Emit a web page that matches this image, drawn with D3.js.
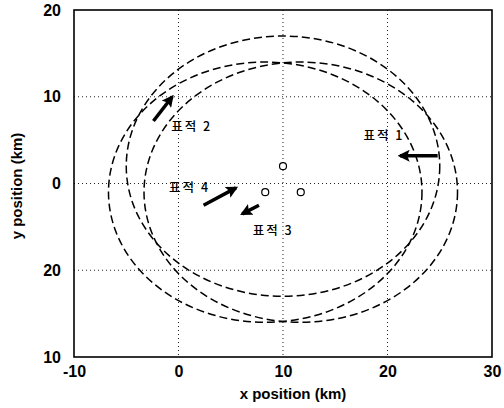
<!DOCTYPE html>
<html>
<head>
<meta charset="utf-8">
<script src="https://d3js.org/d3.v7.min.js"></script>
<style>
  body { margin: 0; background: #fff; }
  svg { display: block; }
</style>
</head>
<body>
<div id="chart"></div>
<script>
//data
var xTicks = [-10, 0, 10, 20, 30];
var yTicks = [-20, -10, 0, 10, 20];
var yTickLabels = ["10", "20", "0", "10", "20"]; // as printed on the scan

// sensors (km) and range circles
var sensorX = [10, 8.3, 11.7];
var sensorY = [2, -1, -1];
var rangeRadius = [15, 15, 15];

// target arrows: tail -> head (km)
var targetNames = ["표적 1", "표적 2", "표적 3", "표적 4"];
var arrowFromX = [24.8, -2.4, 7.7, 2.4];
var arrowFromY = [3.2, 7.2, -2.5, -2.5];
var arrowToX = [21.2, -0.6, 6.1, 5.5];
var arrowToY = [3.2, 10.0, -3.5, -0.5];
var labelX = [17.7, -0.7, 7.1, -0.9];
var labelY = [5.0, 6.0, -5.9, -1.0];

//setup
var width = 504,
    height = 408;
var plotLeft = 74, plotRight = 492, plotTop = 10, plotBottom = 357;

var xScale = d3.scaleLinear().domain([-10, 30]).range([plotLeft, plotRight]);
var yScale = d3.scaleLinear().domain([-20, 20]).range([plotBottom, plotTop]);

var svg = d3.select("#chart").append("svg")
    .attr("width", width)
    .attr("height", height);

var defs = svg.append("defs");
defs.append("marker")
    .attr("id", "head")
    .attr("viewBox", "0 0 10 10")
    .attr("refX", 8)
    .attr("refY", 5)
    .attr("markerUnits", "userSpaceOnUse")
    .attr("markerWidth", 12)
    .attr("markerHeight", 12)
    .attr("orient", "auto")
  .append("path")
    .attr("d", "M0,0 L10,5 L0,10 L2,5 Z")
    .attr("fill", "#000");

//grid
svg.append("g")
    .selectAll("line")
    .data(xTicks.slice(1, -1))
    .enter().append("line")
    .attr("x1", function (d) { return xScale(d); })
    .attr("x2", function (d) { return xScale(d); })
    .attr("y1", plotTop)
    .attr("y2", plotBottom)
    .attr("stroke", "#222")
    .attr("stroke-width", 1)
    .attr("stroke-dasharray", "1,3");

svg.append("g")
    .selectAll("line")
    .data(yTicks.slice(1, -1))
    .enter().append("line")
    .attr("y1", function (d) { return yScale(d); })
    .attr("y2", function (d) { return yScale(d); })
    .attr("x1", plotLeft)
    .attr("x2", plotRight)
    .attr("stroke", "#222")
    .attr("stroke-width", 1)
    .attr("stroke-dasharray", "1,3");

//axes
var xAxis = svg.append("g")
    .attr("transform", "translate(0," + plotBottom + ")")
    .call(d3.axisBottom(xScale).tickValues(xTicks).tickSize(0).tickPadding(9)
        .tickFormat(function (d) { return String(d); }));
xAxis.select(".domain").remove();
xAxis.selectAll("text")
    .style("font-family", "Liberation Sans, Arial, sans-serif")
    .style("font-size", "16px")
    .style("font-weight", "bold")
    .attr("fill", "#000");

var yAxis = svg.append("g")
    .attr("transform", "translate(" + plotLeft + ",0)")
    .call(d3.axisLeft(yScale).tickValues(yTicks).tickSize(0).tickPadding(13)
        .tickFormat(function (d, i) { return yTickLabels[i]; }));
yAxis.select(".domain").remove();
yAxis.selectAll("text")
    .style("font-family", "Liberation Sans, Arial, sans-serif")
    .style("font-size", "16px")
    .style("font-weight", "bold")
    .attr("fill", "#000");

//frame
svg.append("rect")
    .attr("x", plotLeft)
    .attr("y", plotTop)
    .attr("width", plotRight - plotLeft)
    .attr("height", plotBottom - plotTop)
    .attr("fill", "none")
    .attr("stroke", "#000")
    .attr("stroke-width", 1.6);

//range circles
svg.append("g")
    .selectAll("ellipse")
    .data(sensorX)
    .enter().append("ellipse")
    .attr("cx", function (d) { return xScale(d); })
    .attr("cy", function (d, i) { return yScale(sensorY[i]); })
    .attr("rx", function (d, i) { return xScale(d + rangeRadius[i]) - xScale(d); })
    .attr("ry", function (d, i) { return yScale(sensorY[i]) - yScale(sensorY[i] + rangeRadius[i]); })
    .attr("fill", "none")
    .attr("stroke", "#000")
    .attr("stroke-width", 1.5)
    .attr("stroke-dasharray", "8,4");

//sensors
svg.append("g")
    .selectAll("circle")
    .data(sensorX)
    .enter().append("circle")
    .attr("cx", function (d) { return xScale(d); })
    .attr("cy", function (d, i) { return yScale(sensorY[i]); })
    .attr("r", 3.5)
    .attr("fill", "#fff")
    .attr("stroke", "#000")
    .attr("stroke-width", 1.2);

//target arrows
svg.append("g")
    .selectAll("line")
    .data(arrowFromX)
    .enter().append("line")
    .attr("x1", function (d) { return xScale(d); })
    .attr("y1", function (d, i) { return yScale(arrowFromY[i]); })
    .attr("x2", function (d, i) { return xScale(arrowToX[i]); })
    .attr("y2", function (d, i) { return yScale(arrowToY[i]); })
    .attr("stroke", "#000")
    .attr("stroke-width", 3.5)
    .attr("marker-end", "url(#head)");

//target labels
svg.append("g")
    .selectAll("text")
    .data(targetNames)
    .enter().append("text")
    .attr("x", function (d, i) { return xScale(labelX[i]); })
    .attr("y", function (d, i) { return yScale(labelY[i]); })
    .style("font-family", "Noto Sans CJK KR, sans-serif")
    .style("font-size", "12.5px")
    .style("font-weight", "500")
    .style("letter-spacing", "2px")
    .attr("fill", "#000")
    .text(function (d) { return d; });

//axis labels
svg.append("text")
    .attr("x", 293)
    .attr("y", 399)
    .attr("text-anchor", "middle")
    .style("font-family", "Liberation Sans, Arial, sans-serif")
    .style("font-size", "15px")
    .style("font-weight", "bold")
    .text("x position (km)");

svg.append("text")
    .attr("transform", "translate(22,186) rotate(-90)")
    .attr("text-anchor", "middle")
    .style("font-family", "Liberation Sans, Arial, sans-serif")
    .style("font-size", "15px")
    .style("font-weight", "bold")
    .text("y position (km)");
</script>
</body>
</html>
